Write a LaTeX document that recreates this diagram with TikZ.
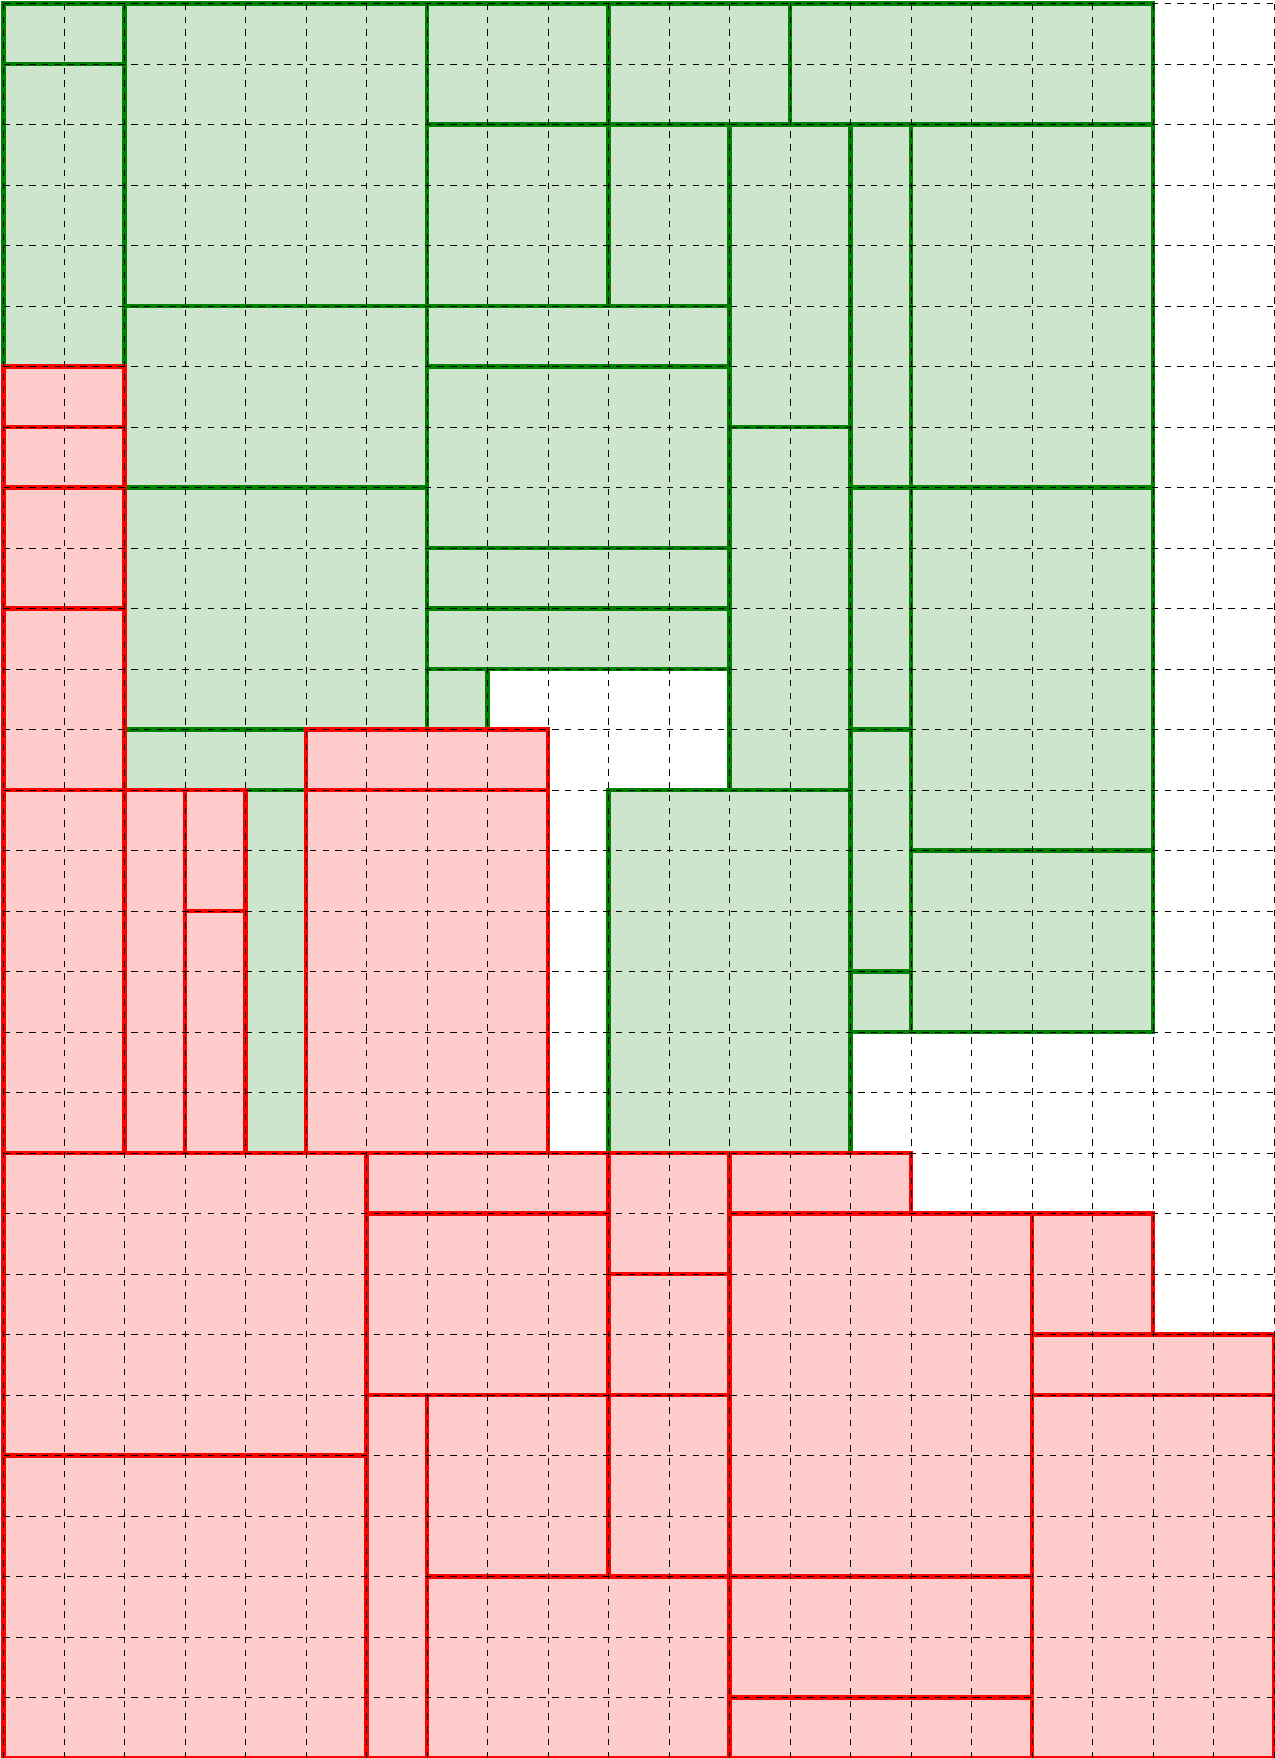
\documentclass[tikz,border=0pt]{standalone}
\usepackage{tikz}

\begin{document}
\begin{tikzpicture}[
    gbox/.style={draw=green!50!black, fill=green!50!black!20, line width=2.2pt},
    rbox/.style={draw=red, fill=red!20, line width=2.2pt}]
    \useasboundingbox (-0.06,0.06) rectangle (21,-29);

    % 1. Green rectangles (x1/y1/x2/y2, rows counted from the top)
    \foreach \a/\b/\c/\d in {0/0/2/1, 0/1/2/6, 2/0/7/5, 7/0/10/2, 10/0/13/2, 13/0/19/2,
        7/2/10/5, 10/2/12/5, 12/2/14/7, 14/2/15/8, 15/2/19/8, 2/5/7/8, 7/5/12/6,
        7/6/12/9, 2/8/7/12, 7/9/12/10, 7/10/12/11, 7/11/8/12, 12/7/14/13,
        14/8/15/12, 15/8/19/14, 14/12/15/16, 15/14/19/17, 14/16/15/17,
        2/12/5/13, 4/13/5/19, 10/13/14/19} {
        \draw[gbox] (\a,-\b) rectangle (\c,-\d);
    }

    % 2. Red rectangles
    \foreach \a/\b/\c/\d in {0/6/2/7, 0/7/2/8, 0/8/2/10, 0/10/2/13, 0/13/2/19,
        2/13/3/19, 3/13/4/15, 3/15/4/19, 5/12/9/13, 5/13/9/19,
        0/19/6/24, 0/24/6/29, 6/19/10/20, 6/20/10/23, 10/19/12/21, 10/21/12/23,
        12/19/15/20, 12/20/17/26, 17/20/19/22, 17/22/21/23, 17/23/21/29,
        6/23/7/29, 7/23/10/26, 10/23/12/26, 7/26/12/29, 12/26/17/28, 12/28/17/29} {
        \draw[rbox] (\a,-\b) rectangle (\c,-\d);
    }

    % 3. Dashed grid on top
    \draw[dashed, thin] (0,0) grid (21,-29);
\end{tikzpicture}
\end{document}
